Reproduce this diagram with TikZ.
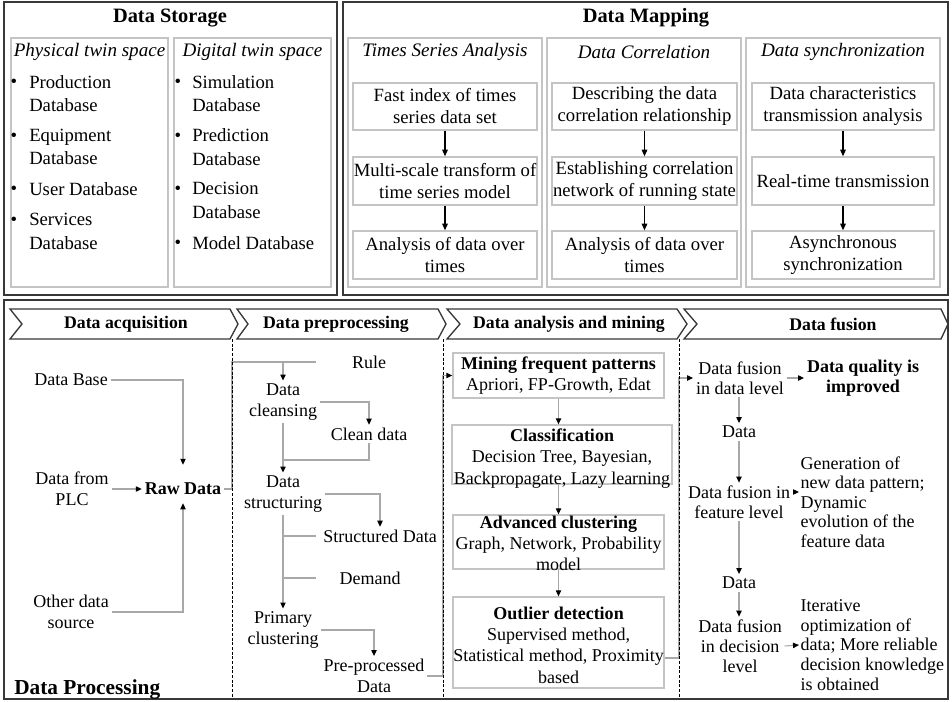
\documentclass[tikz,border=0pt]{standalone}
\usepackage{fontspec}
\setmainfont{Liberation Serif}
\usetikzlibrary{arrows.meta,fit}
\definecolor{framegray}{HTML}{C4C4C4}
\definecolor{linkgray}{HTML}{A8A8A8}
\definecolor{edgedark}{HTML}{383838}
\begin{document}
\begin{tikzpicture}[x=0.75pt,y=-0.75pt,
  outerbox/.style={draw=edgedark,line width=1.2pt,inner sep=0pt,fit={#1}},
  framebox/.style={draw=framegray,line width=1pt,inner sep=0pt,fit={#1}},
  title/.style={font=\fontsize{15.3}{18}\selectfont\bfseries,inner sep=0pt},
  colhead/.style={font=\fontsize{14.3}{17}\selectfont\itshape,inner sep=0pt},
  toptext/.style={font=\fontsize{14}{16.5}\selectfont,align=center,inner sep=0pt},
  item/.style={font=\fontsize{14}{17.5}\selectfont,align=left,inner sep=0pt,anchor=west},
  dot/.style={font=\fontsize{14}{17}\selectfont,inner sep=0pt},
  lowtext/.style={font=\fontsize{13.5}{16}\selectfont,align=center,inner xsep=2pt,inner ysep=2pt},
  fusetext/.style={font=\fontsize{13.5}{15}\selectfont,align=center,inner xsep=2pt,inner ysep=2pt},
  sidetext/.style={font=\fontsize{13.5}{14.7}\selectfont,align=left,inner xsep=1pt,inner ysep=0pt,anchor=west},
  stagehead/.style={font=\fontsize{13.3}{16}\selectfont\bfseries,inner sep=0pt},
  chevron/.style={draw=edgedark,line width=1pt},
  divider/.style={draw=black,line width=0.6pt,dash pattern=on 2.2pt off 1.3pt},
  blackarrow/.style={draw=black,line width=0.8pt,-{Triangle[length=5pt,width=4.2pt]}},
  link/.style={draw=linkgray,line width=0.8pt},
  linkarrow/.style={draw=linkgray,line width=0.8pt,-{Triangle[length=4.5pt,width=4pt,color=black]}},
]
\useasboundingbox (0,0) rectangle (952,702);

% ---------------- Data Storage ----------------
\node[outerbox={(4,2)(337,295)}] (storage) {};
\node[title] (storageT) at (170,18) {Data Storage};
\node[framebox={(11,38)(168,287)}] (phys) {};
\node[framebox={(174,38)(331,287)}] (digi) {};
\node[colhead] (physT) at (89.5,52) {Physical twin space};
\node[colhead] (digiT) at (252.5,52) {Digital twin space};

\node[dot] (pb1) at (14,83) {•};
\node[item] (pi1) at (29,93.5) {Production\\Database};
\node[dot] (pb2) at (14,137) {•};
\node[item] (pi2) at (29,147) {Equipment\\Database};
\node[dot] (pb3) at (14,190) {•};
\node[item] (pi3) at (29,189) {User Database};
\node[dot] (pb4) at (14,221) {•};
\node[item] (pi4) at (29,231.5) {Services\\Database};

\node[dot] (db1) at (178,83) {•};
\node[item] (di1) at (192,93.5) {Simulation\\Database};
\node[dot] (db2) at (178,137) {•};
\node[item] (di2) at (192,147) {Prediction\\Database};
\node[dot] (db3) at (178,190) {•};
\node[item] (di3) at (192,200.5) {Decision\\Database};
\node[dot] (db4) at (178,244) {•};
\node[item] (di4) at (192,243) {Model Database};

% ---------------- Data Mapping ----------------
\node[outerbox={(343,2)(948,295)}] (mapping) {};
\node[title] (mappingT) at (646,18) {Data Mapping};
\node[framebox={(348,38)(542,287)}] (tsa) {};
\node[framebox={(547,38)(741,287)}] (cor) {};
\node[framebox={(746,38)(940,287)}] (syn) {};
\node[colhead] (tsaT) at (445,52) {Times Series Analysis};
\node[colhead] (corT) at (644,52) {Data Correlation};
\node[colhead] (synT) at (843,52) {Data synchronization};

\node[framebox={(353,83)(537,130)}] (t1) {};
\node[framebox={(353,157)(537,205)}] (t2) {};
\node[framebox={(353,231)(537,279)}] (t3) {};
\node[toptext] at (t1.center) {Fast index of times\\series data set};
\node[toptext] at (t2.center) {Multi-scale transform of\\time series model};
\node[toptext] at (t3.center) {Analysis of data over\\times};
\draw[blackarrow] (t1.south) -- (t2.north);
\draw[blackarrow] (t2.south) -- (t3.north);

\node[framebox={(552,83)(737,130)}] (c1) {};
\node[framebox={(552,157)(737,205)}] (c2) {};
\node[framebox={(552,231)(737,279)}] (c3) {};
\node[toptext] at (c1.center) {Describing the data\\correlation relationship};
\node[toptext] at (c2.center) {Establishing correlation\\network of running state};
\node[toptext] at (c3.center) {Analysis of data over\\times};
\draw[blackarrow] (c1.south) -- (c2.north);
\draw[blackarrow] (c2.south) -- (c3.north);

\node[framebox={(752,83)(934,130)}] (s1) {};
\node[framebox={(752,157)(934,205)}] (s2) {};
\node[framebox={(752,231)(934,279)}] (s3) {};
\node[toptext] at (s1.center) {Data characteristics\\transmission analysis};
\node[toptext] at (s2.center) {Real-time transmission};
\node[toptext] at (s3.center) {Asynchronous\\synchronization};
\draw[blackarrow] (s1.south) -- (s2.north);
\draw[blackarrow] (s2.south) -- (s3.north);

% ---------------- Data Processing ----------------
\node[outerbox={(4,300)(948,699)}] (processing) {};
\node[font=\fontsize{16}{18}\selectfont\bfseries,inner sep=0pt,anchor=west] (procT) at (14,689) {Data Processing};

% stage banners
\draw[chevron] (10,309) -- (230,309) -- (238,324) -- (230,339) -- (10,339) -- (22,324) -- cycle;
\draw[chevron] (237,309) -- (438,309) -- (446,324) -- (438,339) -- (237,339) -- (248,324) -- cycle;
\draw[chevron] (447,309) -- (677,309) -- (687,324) -- (677,339) -- (447,339) -- (460,324) -- cycle;
\draw[chevron] (684,309) -- (941,309) -- (948,324) -- (941,339) -- (684,339) -- (697,324) -- cycle;
\node[stagehead] (h1) at (126,324) {Data acquisition};
\node[stagehead] (h2) at (336,324) {Data preprocessing};
\node[stagehead] (h3) at (569,324) {Data analysis and mining};
\node[stagehead] (h4) at (833,324) {Data fusion};

% stage dividers
\coordinate (sepA) at (232,339);
\coordinate (sepB) at (443,339);
\coordinate (sepC) at (679,339);

% data acquisition
\node[lowtext] (dbase) at (71,380) {Data Base};
\node[lowtext] (plc) at (72,489) {Data from\\PLC};
\node[lowtext] (other) at (71,612) {Other data\\source};
\node[lowtext,font=\fontsize{13.5}{16}\selectfont\bfseries,inner ysep=6pt] (raw) at (183,489) {Raw Data};
\draw[linkarrow,shorten >=7.5pt] (dbase.east) -| (raw.north);
\draw[linkarrow] (plc.east) -- (raw.west);
\draw[linkarrow] (other.east) -| (raw.south);

% data preprocessing
\node[lowtext,minimum width=79.5pt] (rule) at (369,362) {Rule};
\node[lowtext] (clean) at (283,402) {Data\\cleansing};
\node[lowtext] (cdata) at (369,434) {Clean data};
\node[lowtext] (struct) at (283,494) {Data\\structuring};
\node[lowtext,minimum width=96pt] (sdata) at (380,536) {Structured Data};
\node[lowtext,minimum width=81pt] (demand) at (370,578) {Demand};
\node[lowtext] (prim) at (283,630) {Primary\\clustering};
\node[lowtext] (pre) at (374,676) {Pre-processed\\Data};
\coordinate (j1) at (283,460);

\draw[link] (raw.east) -| (sepA |- rule.west) -- (rule.west);
\draw[linkarrow] (clean.north |- rule.west) -- (clean.north);
\draw[linkarrow] (clean.east) -| (cdata.north);
\draw[link] (cdata.south) |- (j1);
\draw[linkarrow] (clean.south) -- (struct.north);
\draw[linkarrow] (struct.east) -| (sdata.north);
\draw[linkarrow] (struct.south) -- (prim.north);
\draw[link] (struct.south |- sdata.west) -- (sdata.west);
\draw[link] (struct.south |- demand.west) -- (demand.west);
\draw[linkarrow] (prim.east) -| (pre.north);

% data analysis and mining
\node[framebox={(453,353)(664,398)}] (m1) {};
\node[framebox={(452,425)(672,484)}] (m2) {};
\node[framebox={(453,515)(664,569)}] (m3) {};
\node[framebox={(453,597)(664,688)}] (m4) {};
\node[lowtext,inner sep=0pt] at (m1.center) {\textbf{Mining frequent patterns}\\Apriori, FP-Growth, Edat};
\node[lowtext,inner sep=0pt] at ([yshift=-3pt]m2.center) {\textbf{Classification}\\Decision Tree, Bayesian,\\Backpropagate, Lazy learning};
\node[lowtext,inner sep=0pt] at ([yshift=-1pt]m3.center) {\textbf{Advanced clustering}\\Graph, Network, Probability\\model};
\node[lowtext,inner sep=0pt] at ([yshift=-2pt]m4.center) {\textbf{Outlier detection}\\Supervised method,\\Statistical method, Proximity\\based};
\draw[linkarrow] (pre.east) -| (sepB |- m1.west) -- (m1.west);
\draw[linkarrow] (m1.south) -- (m1.south |- m2.north);
\draw[linkarrow] (m1.south |- m2.south) -- (m1.south |- m3.north);
\draw[linkarrow] (m3.south) -- (m4.north);

% data fusion
\node[fusetext] (f1) at (740,378) {Data fusion\\in data level};
\node[fusetext,font=\fontsize{13.5}{15}\selectfont\bfseries] (q1) at (863,378) {Data quality is\\improved};
\node[fusetext] (d1) at (739,432) {Data};
\node[fusetext] (f2) at (739,502) {Data fusion in\\feature level};
\node[sidetext] (g2) at (799,502) {Generation of\\new data pattern;\\Dynamic\\evolution of the\\feature data};
\node[fusetext] (d2) at (739,583) {Data};
\node[fusetext] (f3) at (740,646) {Data fusion\\in decision\\level};
\node[sidetext] (g3) at (799,645) {Iterative\\optimization of\\data; More reliable\\decision knowledge\\is obtained};

\draw[linkarrow] (m4.east |- 0,658) -| (sepC |- f1.west) -- (f1.west);
\draw[linkarrow] (f1.east) -- (q1.west);
\draw[linkarrow] (d1.north |- f1.south) -- (d1.north);
\draw[linkarrow] (d1.south) -- (d1.south |- f2.north);
\draw[linkarrow] (d2.north |- f2.south) -- (d2.north);
\draw[linkarrow] (d2.south) -- (d2.south |- f3.north);
\draw[linkarrow] (f2.east |- 0,492) -- (g2.west |- 0,492);
\draw[linkarrow] (f3.east) -- (g3.west);

% dashed dividers drawn over the routing lines
\draw[divider] (sepA) -- (sepA |- 0,698);
\draw[divider] (sepB) -- (sepB |- 0,698);
\draw[divider] (sepC) -- (sepC |- 0,698);
\end{tikzpicture}
\end{document}
